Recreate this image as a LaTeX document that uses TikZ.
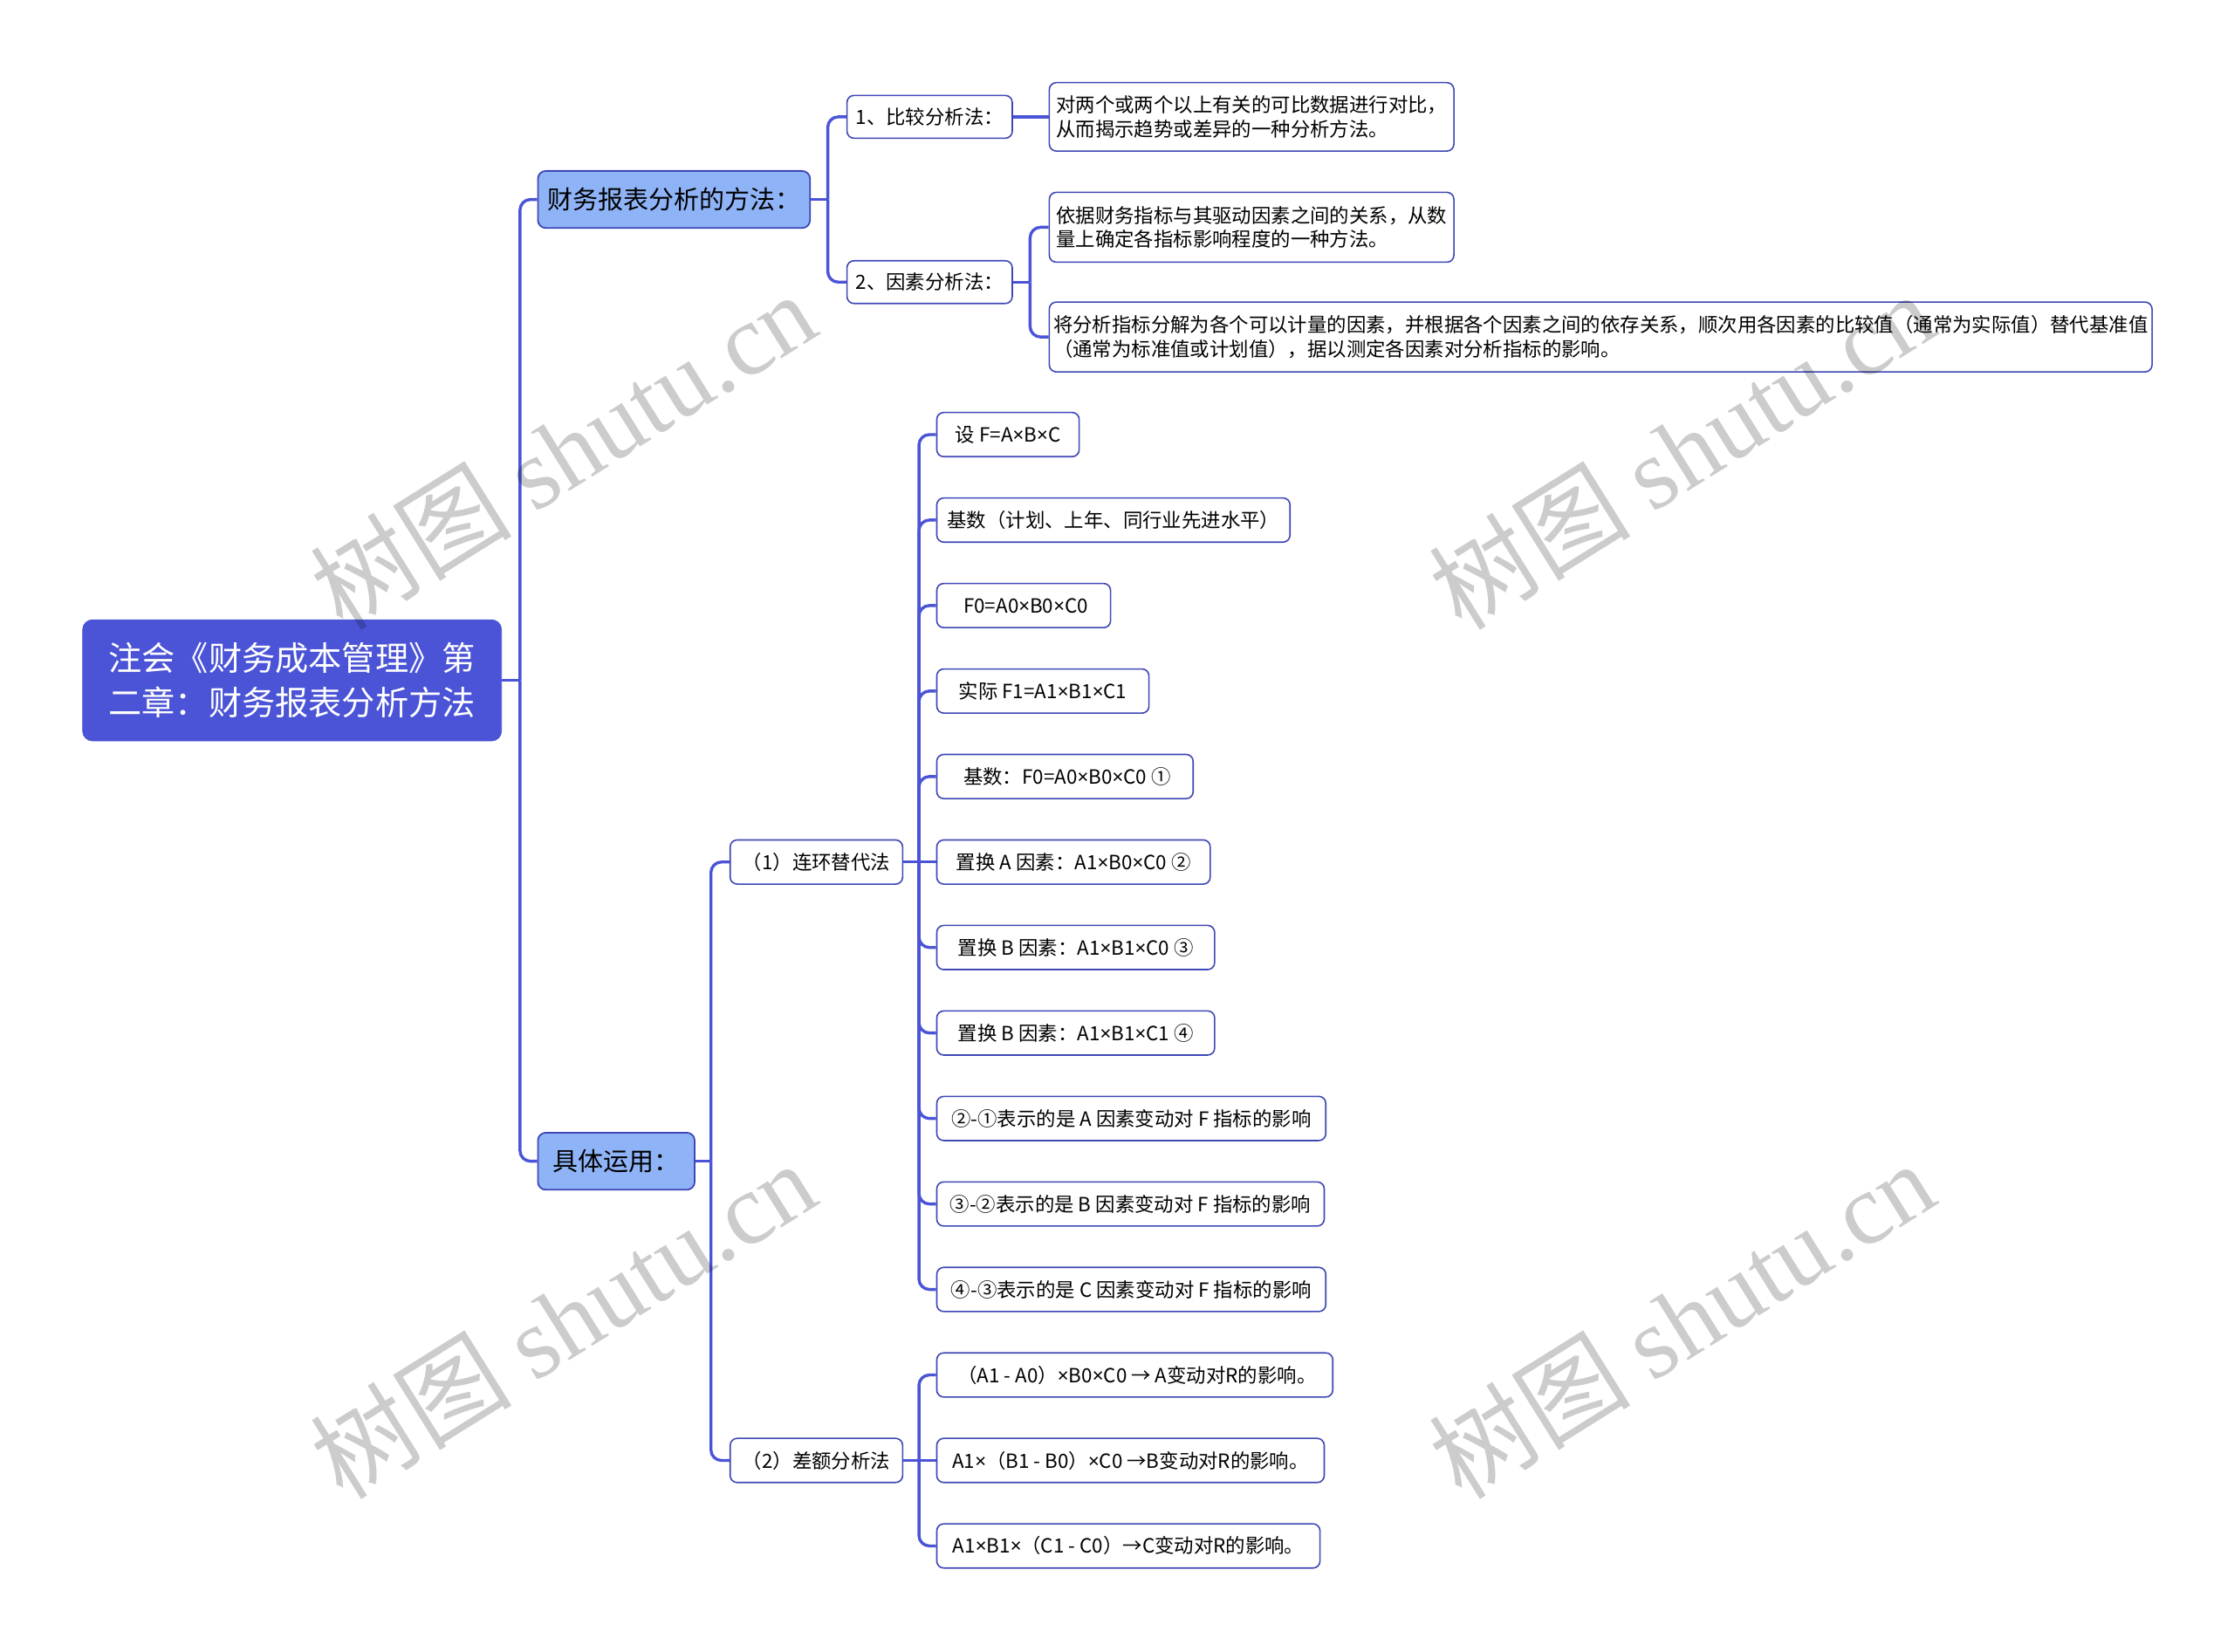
\documentclass[tikz,border=0pt]{standalone}
\usepackage{fontspec}
\setmainfont{Noto Sans CJK SC}
\newfontfamily\wmlatin{Liberation Serif}
\newfontfamily\wmcjk{Noto Sans CJK SC}
\newfontfamily\latinmul{Noto Sans}
\newcommand\mul{{\latinmul ×}}
\definecolor{rootfill}{HTML}{4B54D6}
\definecolor{lonefill}{HTML}{8FB3F7}
\definecolor{linec}{HTML}{4B54D6}
\definecolor{boxline}{HTML}{3F47B5}
\tikzset{
  conn/.style={draw=linec, line width=1.7pt},
  rconn/.style={conn, rounded corners=6pt},
  rootbox/.style={fill=rootfill, draw=rootfill, rounded corners=5.7pt, text=white,
    font=\fontsize{19.1pt}{25.3pt}\selectfont, align=center, inner sep=0pt,
    minimum width=240pt, minimum height=69.4pt},
  lonebox/.style={fill=lonefill, draw=boxline, line width=0.9pt, rounded corners=4.5pt,
    font=\fontsize{14.5pt}{17pt}\selectfont, inner sep=0pt, anchor=west,
    minimum height=32.7pt},
  sbox/.style={fill=white, draw=boxline, line width=0.8pt, rounded corners=4pt,
    font=\fontsize{11.2pt}{13.9pt}\selectfont, inner sep=0pt, anchor=west,
    minimum height=25.3pt},
  wm/.style={rotate=32, text=black, opacity=0.2, font=\fontsize{58pt}{58pt}\selectfont}
}
\begin{document}
\begin{tikzpicture}[x=0.8163pt, y=-0.8163pt]
\useasboundingbox[fill=white] (0,0) rectangle (1568,1159);

% root and level 1
\node[rootbox] (root) at (205,477.5) {注会《财务成本管理》第\\二章：财务报表分析方法};
\node[lonebox, minimum width=155.9pt] (m1) at (377,140) {财务报表分析的方法：};
\node[lonebox, minimum width=89.8pt] (m2) at (377,815) {具体运用：};

% methods
\node[sbox, minimum width=94.7pt, minimum height=24.5pt] (a1) at (594,82) {1、比较分析法：};
\node[sbox, minimum width=94.7pt, minimum height=24.5pt] (a2) at (594,198) {2、因素分析法：};
\node[sbox, minimum width=231.8pt, minimum height=39.2pt, align=left] (a1x) at (736,82)
  {对两个或两个以上有关的可比数据进行对比，\\从而揭示趋势或差异的一种分析方法。};
\node[sbox, minimum width=231.8pt, minimum height=40pt, align=left] (a2x) at (736,159.5)
  {依据财务指标与其驱动因素之间的关系，从数\\量上确定各指标影响程度的一种方法。};
\node[sbox, minimum width=631.8pt, minimum height=40pt, align=left] (a2y) at (736,236.5)
  {将分析指标分解为各个可以计量的因素，并根据各个因素之间的依存关系，顺次用各因素的比较值（通常为实际值）替代基准值\\（通常为标准值或计划值），据以测定各因素对分析指标的影响。};

% applications
\node[sbox, minimum width=98.8pt] (b1) at (512,605) {（1）连环替代法};
\node[sbox, minimum width=98.8pt] (b2) at (512,1025) {（2）差额分析法};

\node[sbox, minimum width=81.6pt]  (c1)  at (657,305) {设 F=A\mul B\mul C};
\node[sbox, minimum width=202.4pt] (c2)  at (657,365) {基数（计划、上年、同行业先进水平）};
\node[sbox, minimum width=99.6pt]  (c3)  at (657,425) {\ F0=A0\mul B0\mul C0};
\node[sbox, minimum width=121.6pt] (c4)  at (657,485) {实际 F1=A1\mul B1\mul C1};
\node[sbox, minimum width=146.9pt] (c5)  at (657,545) {\ 基数：F0=A0\mul B0\mul C0 ①};
\node[sbox, minimum width=156.7pt] (c6)  at (657,605) {置换 A 因素：A1\mul B0\mul C0 ②};
\node[sbox, minimum width=159.2pt] (c7)  at (657,665) {置换 B 因素：A1\mul B1\mul C0 ③};
\node[sbox, minimum width=159.2pt] (c8)  at (657,725) {置换 B 因素：A1\mul B1\mul C1 ④};
\node[sbox, minimum width=222.9pt] (c9)  at (657,785) {②-①表示的是 A 因素变动对 F 指标的影响};
\node[sbox, minimum width=222.0pt] (c10) at (657,845) {③-②表示的是 B 因素变动对 F 指标的影响};
\node[sbox, minimum width=222.9pt] (c11) at (657,905) {④-③表示的是 C 因素变动对 F 指标的影响};

\node[sbox, minimum width=226.9pt] (d1) at (657,965)  {\ （A1 - A0）\mul B0\mul C0 → A变动对R的影响。};
\node[sbox, minimum width=222.0pt] (d2) at (657,1025) {A1\mul （B1 - B0）\mul C0 →B变动对R的影响。};
\node[sbox, minimum width=219.6pt] (d3) at (657,1085) {A1\mul B1\mul （C1 - C0）→C变动对R的影响。};

% connectors
\coordinate (jr) at (365,477.5);
\draw[conn] (root.east) -- (jr);
\draw[rconn] (jr) |- (m1.west);
\draw[rconn] (jr) |- (m2.west);

\coordinate (jm1) at (581,140);
\draw[conn] (m1.east) -- (jm1);
\draw[rconn] (jm1) |- (a1.west);
\draw[rconn] (jm1) |- (a2.west);

\draw[conn] (a1.east) -- (a1x.west);

\coordinate (ja2) at (723,198);
\draw[conn] (a2.east) -- (ja2);
\draw[rconn] (ja2) |- (a2x.west);
\draw[rconn] (ja2) |- (a2y.west);

\coordinate (jm2) at (499,815);
\draw[conn] (m2.east) -- (jm2);
\draw[rconn] (jm2) |- (b1.west);
\draw[rconn] (jm2) |- (b2.west);

\coordinate (jb1) at (645,605);
\draw[conn] (b1.east) -- (jb1);
\foreach \n in {c1,c2,c3,c4,c5,c7,c8,c9,c10,c11} {\draw[rconn] (jb1) |- (\n.west);}
\draw[conn] (jb1) -- (c6.west);

\coordinate (jb2) at (645,1025);
\draw[conn] (b2.east) -- (jb2);
\draw[rconn] (jb2) |- (d1.west);
\draw[conn] (jb2) -- (d2.west);
\draw[rconn] (jb2) |- (d3.west);

% watermarks
\node[wm] (w1) at (395,316)  {\wmcjk 树图\ \wmlatin shutu.cn};
\node[wm] (w2) at (1180,316) {\wmcjk 树图\ \wmlatin shutu.cn};
\node[wm] (w3) at (395,926)  {\wmcjk 树图\ \wmlatin shutu.cn};
\node[wm] (w4) at (1180,926) {\wmcjk 树图\ \wmlatin shutu.cn};
\end{tikzpicture}
\end{document}
